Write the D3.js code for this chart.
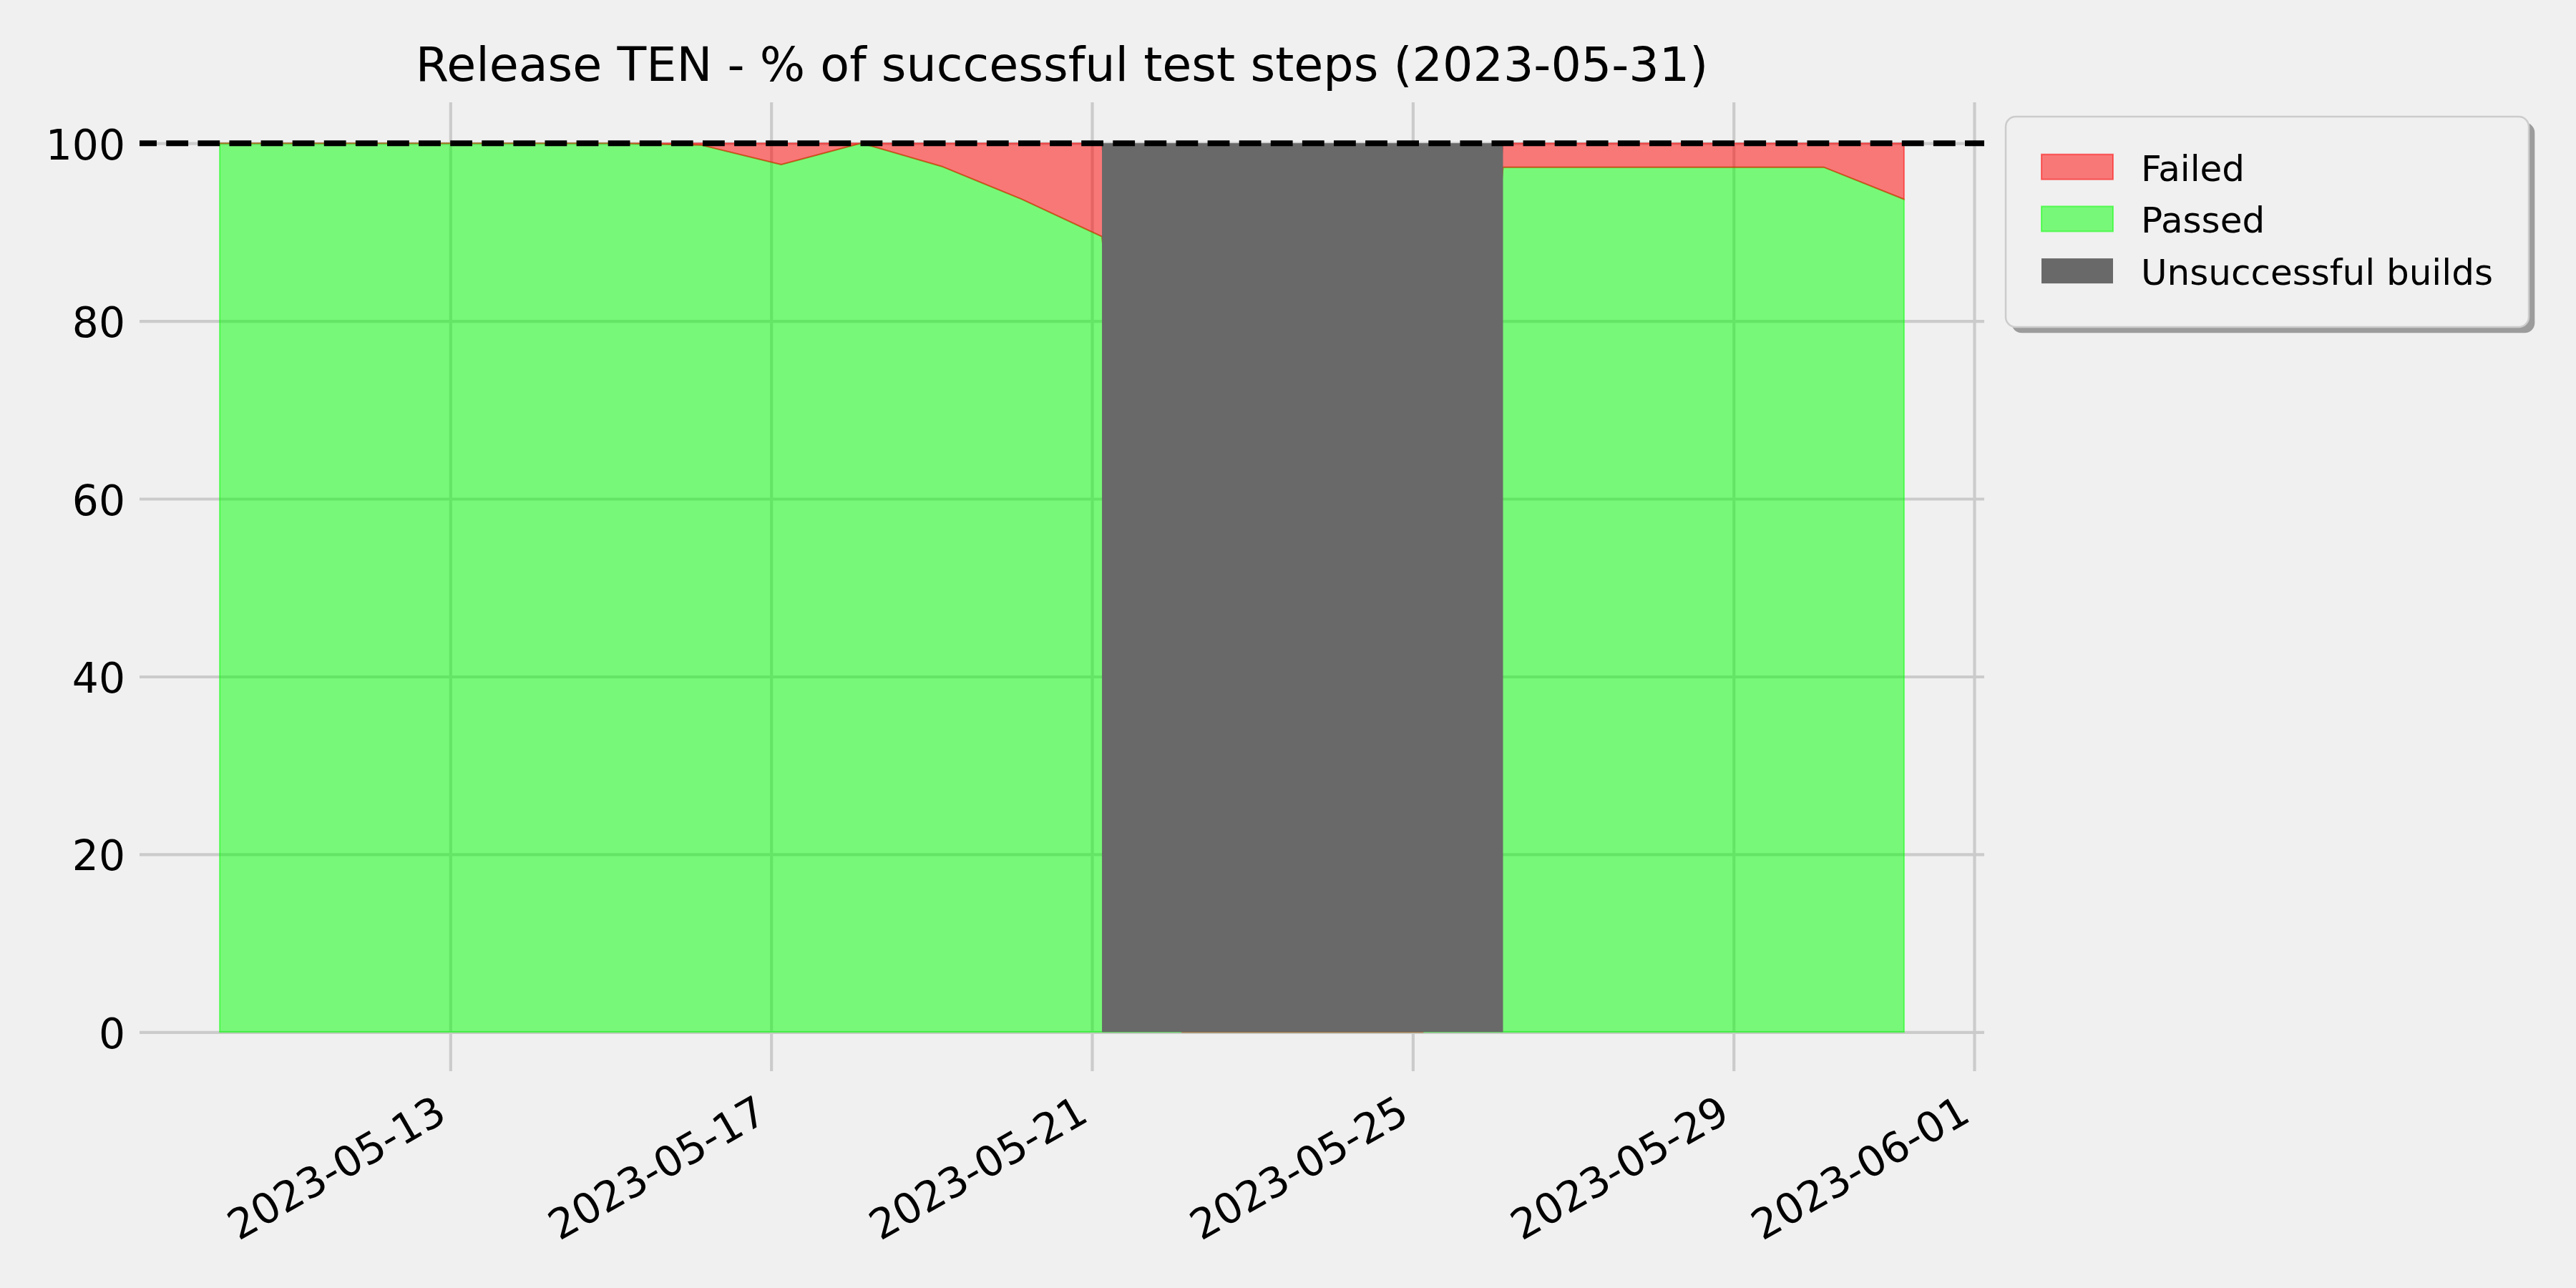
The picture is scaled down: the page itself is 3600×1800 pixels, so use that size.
<!DOCTYPE html>
<html>
<head>
<meta charset="utf-8">
<script src="https://cdn.jsdelivr.net/npm/d3@7"></script>
<style>
  html, body { margin: 0; padding: 0; background: #f0f0f0; }
  svg { display: block; }
  text { font-family: "DejaVu Sans", sans-serif; fill: #000; }
</style>
</head>
<body>
<script>
// ---------------- data ----------------
const dates = [
  "2023-05-10 03:00", "2023-05-11 03:00", "2023-05-12 03:00", "2023-05-13 03:00",
  "2023-05-14 03:00", "2023-05-15 03:00", "2023-05-16 03:00", "2023-05-17 03:00",
  "2023-05-18 03:00", "2023-05-19 03:00", "2023-05-20 03:00", "2023-05-21 03:00",
  "2023-05-22 03:00", "2023-05-23 03:00", "2023-05-24 03:00", "2023-05-25 03:00",
  "2023-05-26 03:00", "2023-05-27 03:00", "2023-05-28 03:00", "2023-05-29 03:00",
  "2023-05-30 03:00", "2023-05-31 03:00"
];
const passed = [100, 100, 100, 100, 100, 100, 99.8, 97.6, 100, 97.4, 93.7, 89.5,
                0, 0, 0, 0, 97.3, 97.3, 97.3, 97.3, 97.3, 93.7];
const failed = [0, 0, 0, 0, 0, 0, 0.2, 2.4, 0, 2.6, 6.3, 10.5,
                0, 0, 0, 0, 2.7, 2.7, 2.7, 2.7, 2.7, 6.3];
const unsuccessfulBuilds = ["2023-05-21 03:00", "2023-05-26 03:00"];
const targetValue = 100;
const yTicks = [0, 20, 40, 60, 80, 100];
const xTickLabels = ["2023-05-13", "2023-05-17", "2023-05-21", "2023-05-25", "2023-05-29", "2023-06-01"];
const seriesNames = ["Passed", "Failed"];
const legendLabels = ["Failed", "Passed", "Unsuccessful builds"];
const titleText = "Release TEN - % of successful test steps (2023-05-31)";

// ---------------- layout ----------------
const W = 3600, H = 1800;
const plot = { left: 195, right: 2773, top: 143, bottom: 1497 };
const colors = { Passed: "#00ff00", Failed: "#ff0000", "Unsuccessful builds": "#696969" };

const parseT = d3.utcParse("%Y-%m-%d %H:%M");
const parseD = d3.utcParse("%Y-%m-%d");
const t = dates.map(parseT);
const rows = t.map((d, i) => ({ date: d, Passed: passed[i], Failed: failed[i] }));

const pad = 24 * 3600 * 1000;
const x = d3.scaleUtc()
  .domain([new Date(+t[0] - pad), new Date(+t[t.length - 1] + pad)])
  .range([plot.left, plot.right]);
const y = d3.scaleLinear()
  .domain([-4.4, 104.6])
  .range([plot.bottom, plot.top]);

const svg = d3.select("body").append("svg")
  .attr("width", W).attr("height", H)
  .attr("viewBox", `0 0 ${W} ${H}`);
svg.append("rect").attr("width", W).attr("height", H).attr("fill", "#f0f0f0");

// ---------------- axes / grid ----------------
const yAxis = d3.axisLeft(y)
  .tickValues(yTicks)
  .tickSize(-(plot.right - plot.left))
  .tickFormat(d3.format("d"));
const gy = svg.append("g").attr("transform", `translate(${plot.left},0)`).call(yAxis);
gy.select(".domain").remove();
gy.selectAll(".tick line").attr("stroke", "#cbcbcb").attr("stroke-width", 4.17);
gy.selectAll(".tick text")
  .attr("x", -20).attr("dy", null).attr("y", 22)
  .attr("font-size", 58.3).attr("text-anchor", "end")
  .style("font-family", "'DejaVu Sans', sans-serif").attr("fill", "#000");

const xAxis = d3.axisBottom(x)
  .tickValues(xTickLabels.map(parseD))
  .tickSize(-(plot.bottom - plot.top))
  .tickFormat(d3.utcFormat("%Y-%m-%d"));
const gx = svg.append("g").attr("transform", `translate(0,${plot.bottom})`).call(xAxis);
gx.select(".domain").remove();
gx.selectAll(".tick line").attr("stroke", "#cbcbcb").attr("stroke-width", 4.17);
gx.selectAll(".tick text")
  .attr("x", -3).attr("y", 68).attr("dy", null)
  .attr("text-anchor", "end")
  .attr("transform", "rotate(-30, -3, 68)")
  .attr("font-size", 58.3)
  .style("font-family", "'DejaVu Sans', sans-serif").attr("fill", "#000");

// ---------------- stacked areas ----------------
const stack = d3.stack().keys(seriesNames);
const layers = stack(rows);
const area = d3.area()
  .x(d => x(d.data.date))
  .y0(d => y(d[0]))
  .y1(d => y(d[1]))
  .curve(d3.curveLinear);

svg.append("g").selectAll("path")
  .data(layers)
  .join("path")
  .attr("d", area)
  .attr("fill", d => colors[d.key])
  .attr("fill-opacity", 0.5)
  .attr("stroke", d => colors[d.key])
  .attr("stroke-opacity", 0.5)
  .attr("stroke-width", 2)
  .attr("stroke-linejoin", "miter");

// ---------------- unsuccessful builds ----------------
const ub = unsuccessfulBuilds.map(parseT);
svg.append("rect")
  .attr("x", x(ub[0]))
  .attr("width", x(ub[1]) - x(ub[0]))
  .attr("y", y(targetValue))
  .attr("height", y(0) - y(targetValue))
  .attr("fill", colors["Unsuccessful builds"]);

// ---------------- target line ----------------
svg.append("line")
  .attr("x1", plot.left).attr("x2", plot.right)
  .attr("y1", y(targetValue)).attr("y2", y(targetValue))
  .attr("stroke", "#000").attr("stroke-width", 8)
  .attr("stroke-dasharray", "30.8,13.3")
  .attr("stroke-dashoffset", 6.8);

// ---------------- title ----------------
svg.append("text")
  .attr("x", (plot.left + plot.right) / 2)
  .attr("y", 113)
  .attr("text-anchor", "middle")
  .attr("font-size", 66.7)
  .text(titleText);

// ---------------- legend ----------------
const lg = svg.append("g");
const box = { x: 2803, y: 163, w: 731, h: 294 };
lg.append("rect")
  .attr("x", box.x + 8.3).attr("y", box.y + 8.3)
  .attr("width", box.w).attr("height", box.h)
  .attr("rx", 14).attr("fill", "#9c9c9c");
lg.append("rect")
  .attr("x", box.x).attr("y", box.y)
  .attr("width", box.w).attr("height", box.h)
  .attr("rx", 14).attr("fill", "#f0f0f0")
  .attr("stroke", "#cccccc").attr("stroke-width", 2.5);

const items = lg.selectAll("g.item")
  .data(legendLabels)
  .join("g")
  .attr("class", "item")
  .attr("transform", (d, i) => `translate(0,${215.7 + 72.7 * i})`);
items.append("rect")
  .attr("x", 2853).attr("y", 0)
  .attr("width", 100).attr("height", 35)
  .attr("fill", d => colors[d])
  .attr("fill-opacity", d => d === "Unsuccessful builds" ? 1 : 0.5)
  .attr("stroke", d => d === "Unsuccessful builds" ? "none" : colors[d])
  .attr("stroke-opacity", 0.5)
  .attr("stroke-width", 2);
items.append("text")
  .attr("x", 2992).attr("y", 36.8)
  .attr("font-size", 50)
  .text(d => d);
</script>
</body>
</html>
